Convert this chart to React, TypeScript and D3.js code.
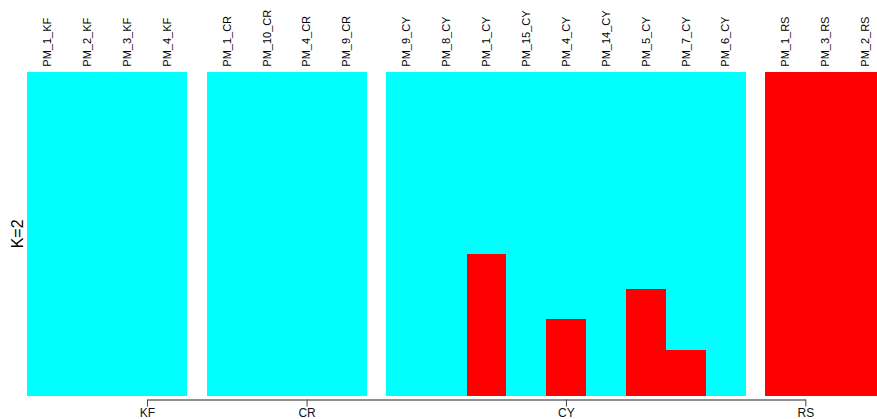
import React, { useEffect, useRef } from "react";
import * as d3 from "d3";

// sample order as plotted, grouped by population
const samples = [
  "PM_1_KF", "PM_2_KF", "PM_3_KF", "PM_4_KF",
  "PM_1_CR", "PM_10_CR", "PM_4_CR", "PM_9_CR",
  "PM_9_CY", "PM_8_CY", "PM_1_CY", "PM_15_CY", "PM_4_CY", "PM_14_CY", "PM_5_CY", "PM_7_CY", "PM_6_CY",
  "PM_1_RS", "PM_3_RS", "PM_2_RS",
];
const groups = ["KF", "KF", "KF", "KF", "CR", "CR", "CR", "CR",
  "CY", "CY", "CY", "CY", "CY", "CY", "CY", "CY", "CY", "RS", "RS", "RS"];
const groupNames = ["KF", "CR", "CY", "RS"];
// positions of the group labels on the bottom axis (in bar units, gaps included)
const groupTicks = [3, 7, 13.5, 19.5];

// membership of cluster 2 (red); cluster 1 (cyan) is the rest
const cluster2 = [
  0, 0, 0, 0,
  0, 0, 0, 0,
  0, 0, 0.437, 0, 0.237, 0, 0.33, 0.14, 0,
  1, 1, 1,
];

const App = () => {
  const svgRef = useRef<SVGSVGElement | null>(null);

  useEffect(() => {
    const height = 419;
    const margin = { top: 72, bottom: 23.3, left: 27.3 };
    const unit = 39.9;
    const gap = 0.5;

    // bar start in units, adding a gap whenever the group changes
    let pos = 0;
    const starts: number[] = samples.map((s, i) => {
      if (i > 0 && groups[i] !== groups[i - 1]) pos += gap;
      const p = pos;
      pos += 1;
      return p;
    });

    const x = d3.scaleLinear().domain([0, pos]).range([margin.left, margin.left + pos * unit]);
    const y = d3.scaleLinear().domain([0, 1]).range([height - margin.bottom, margin.top]);

    const rows = samples.map((s, i) => ({ name: s, k2: cluster2[i], k1: 1 - cluster2[i], start: starts[i] }));
    const stacked = d3.stack<any>().keys(["k2", "k1"])(rows);
    const colors: Record<string, string> = { k2: "#FF0000", k1: "#00FFFF" };

    const svg = d3.select(svgRef.current);
    svg.selectAll("*").remove();

    svg
      .append("g")
      .selectAll("g")
      .data(stacked)
      .join("g")
      .attr("fill", (d) => colors[d.key])
      .selectAll("rect")
      .data((d) => d)
      .join("rect")
      .attr("x", (d: any) => x(d.data.start))
      .attr("width", x(1) - x(0) + 0.3)
      .attr("y", (d) => y(d[1]))
      .attr("height", (d) => Math.max(0, y(d[0]) - y(d[1])))
      .attr("shape-rendering", "crispEdges");

    // sample names on top
    svg
      .append("g")
      .selectAll("text")
      .data(rows)
      .join("text")
      .attr("transform", (d) => `translate(${x(d.start + 0.5)},66.7) rotate(-90)`)
      .attr("dy", "0.35em")
      .attr("text-anchor", "start")
      .attr("font-size", 11)
      .attr("fill", "#000")
      .text((d) => d.name);

    // bottom group axis, R style: line only between first and last tick
    const axisScale = d3
      .scaleLinear()
      .domain([groupTicks[0], groupTicks[groupTicks.length - 1]])
      .range([x(groupTicks[0]), x(groupTicks[groupTicks.length - 1])]);
    const axis = svg
      .append("g")
      .attr("transform", `translate(0,${399.5})`)
      .call(
        d3
          .axisBottom(axisScale)
          .tickValues(groupTicks)
          .tickFormat((d, i) => groupNames[i])
          .tickSize(7)
          .tickSizeOuter(0)
          .tickPadding(2)
      );
    axis.attr("font-family", "Liberation Sans, Arial, sans-serif").attr("font-size", 12);
    axis.select(".domain").attr("stroke", "#222");
    axis.selectAll(".tick line").attr("stroke", "#444");
    axis.selectAll(".tick text").attr("fill", "#111");

    // K label
    svg
      .append("text")
      .attr("transform", `translate(17,${(y(0) + y(1)) / 2}) rotate(-90)`)
      .attr("dy", "0.35em")
      .attr("text-anchor", "middle")
      .attr("font-size", 16)
      .text("K=2");
  }, []);

  return (
    <div style={{ position: "absolute", left: 0, top: 0 }}>
      <svg
        ref={svgRef}
        width={877}
        height={419}
        style={{ display: "block", fontFamily: "Liberation Sans, Arial, sans-serif", background: "#fff" }}
      />
    </div>
  );
};

export default App;
